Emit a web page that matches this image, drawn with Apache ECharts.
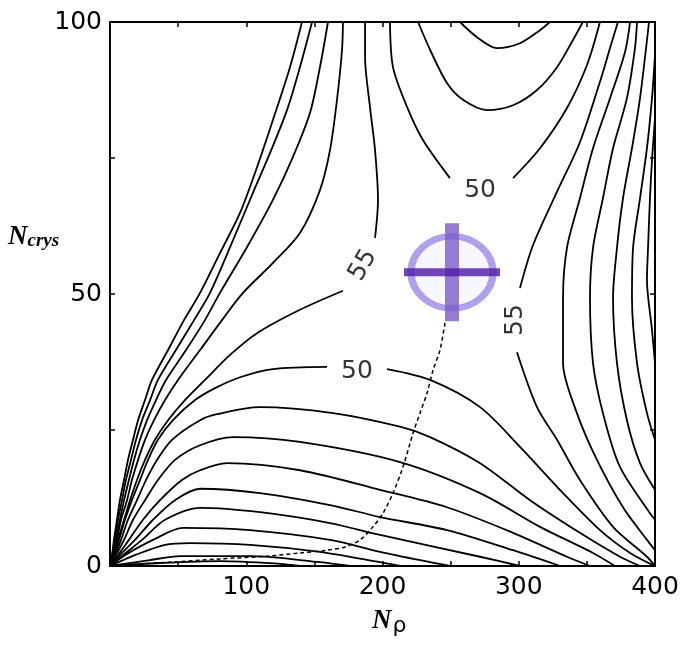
<!DOCTYPE html>
<html>
<head>
<meta charset="utf-8">
<script src="https://cdn.jsdelivr.net/npm/echarts@6/dist/echarts.min.js"></script>
<style>
  html, body { margin: 0; padding: 0; background: #fff; }
  #chart { width: 686px; height: 647px; }
</style>
</head>
<body>
<div id="chart"></div>
<script>
// Axis tick labels
const xTickLabels = [100, 200, 300, 400];
const yTickLabels = [0, 50, 100];

// Left family of contours (levels above 55), top edge down into the origin
const contourU1 = [[140.9,100],[132.1,91.7],[119.6,82.0],[107.9,73.3],[95.4,64.9],[80.7,57.5],[66.1,50.2],[54.3,45.2],[42.6,39.7],[30.8,34.2],[25.7,30.5],[20.6,26.8],[16.9,23.2],[13.2,19.5],[10.3,15.8],[7.3,12.1],[5.1,8.5],[2.9,4.8],[1.5,2.0],[0,0]];
const contourU2 = [[148.3,100],[139.4,91.7],[129.9,83.8],[117.4,75.9],[104.9,68.6],[90.3,59.9],[73.4,50.2],[61.7,45.2],[48.4,39.7],[35.2,34.2],[29.4,30.5],[23.5,26.8],[19.1,23.2],[15.4,19.5],[11.7,15.8],[8.8,12.1],[5.9,8.5],[3.7,4.8],[1.5,2.0],[0,0]];
const contourU3 = [[160.0,100],[154.1,91.7],[146.8,83.3],[134.3,75.2],[119.6,67.3],[100.5,58.6],[80.7,50.2],[69.7,45.2],[55.8,39.7],[41.1,34.2],[33.8,30.5],[27.2,26.8],[22.0,23.2],[17.6,19.5],[13.9,15.8],[10.3,12.1],[7.3,8.5],[4.4,4.8],[2.2,2.0],[0,0]];
const contourU4 = [[171.0,100],[170.3,94.9],[166.6,85.7],[161.5,76.5],[154.1,69.1],[139.4,61.2],[119.6,55.7],[97.6,50.2],[82.2,45.2],[66.1,39.7],[49.9,34.2],[40.4,30.5],[32.3,26.8],[25.7,23.2],[20.6,19.5],[16.1,15.8],[12.5,12.1],[8.1,8.5],[5.1,4.8],[2.2,2.0],[0,0]];

// Level 55, left branch (broken where its label sits)
const contour55LeftTop = [[187.2,100],[187.2,93.6],[190.8,84.4],[194.5,76.5],[196.7,67.3],[194.5,60.3]];
const contour55LeftBottom = [[171.0,50.6],[139.4,47.1],[107.9,42.8],[88.1,38.8],[69.7,34.2],[55.0,30.5],[42.6,26.8],[33.0,23.2],[25.7,19.5],[19.8,15.8],[14.7,12.1],[10.3,8.5],[5.9,4.8],[2.9,2.0],[0,0]];

// Upper family (level 50 and below), opening toward the top edge
const contour50TopLeft = [[205.5,100],[207.7,91.7],[218.0,84.4],[229.7,78.3],[249.5,71.3]];
const contour50TopRight = [[295.8,71.3],[315.6,76.8],[335.4,84.2],[350.1,92.1],[359.6,100]];
const contourV2 = [[226.1,100],[234.9,94.9],[247.3,88.8],[259.1,85.7],[276.7,83.8],[295.8,84.7],[313.4,87.5],[328.1,91.7],[339.8,96.7],[347.1,100]];
const contourV3 = [[256.9,100],[269.4,97.2],[284.0,95.2],[300.9,96.1],[315.6,98.5],[322.9,100]];

// Level 55, right branch
const contour55RightTop = [[372.8,100],[367.0,95.2],[359.6,89.0],[344.9,77.9],[328.1,68.8],[310.5,59.0],[300.9,51.1]];
const contour55RightBottom = [[298.7,39.3],[313.4,29.2],[328.1,23.2],[344.9,15.8],[369.2,7.2],[394.1,1.7],[400,0]];

// Right family (levels above 55)
const contourR1 = [[381.7,100],[378.0,94.5],[367.0,86.0],[354.5,76.8],[344.9,67.6],[335.4,58.5],[332.5,49.3],[332.5,37.3],[342.7,28.1],[357.4,19.5],[376.5,10.8],[394.1,4.8],[400,2.9]];
const contourR2 = [[386.8,100],[385.3,95.2],[379.4,86.0],[369.2,76.8],[361.8,67.6],[354.5,58.5],[352.3,49.3],[354.5,37.3],[361.8,28.1],[374.3,18.2],[396.3,9.7],[400,8.5]];
const contourR3 = [[395.6,100],[389.0,86.0],[383.1,76.8],[376.5,67.6],[372.1,58.5],[369.2,49.3],[372.1,37.3],[379.4,26.8],[389.0,18.9],[400,14.0]];
const contourR4 = [[400,93.9],[397.8,86.0],[394.1,76.8],[389.0,67.6],[383.9,58.5],[383.1,49.3],[386.8,37.3],[394.1,28.1],[400,23.2]];
const contourR5 = [[400,82.4],[397.8,74.6],[396.3,67.6],[394.9,58.5],[394.1,52.6],[397.8,43.4],[400,37.3]];

// Lower family (level 50 and below), fanning out from the origin
const contour50LowLeft = [[0,0],[2.9,2.0],[6.6,4.8],[11.0,8.5],[16.1,12.1],[22.0,15.8],[27.9,19.5],[35.2,23.2],[46.2,26.8],[62.4,30.5],[77.1,32.7],[95.4,34.7],[119.6,36.2],[159.3,36.6]];
const contour50LowRight = [[203.3,36.2],[234.9,34.2],[271.6,29.2],[300.9,21.9],[332.5,13.4],[359.6,6.6],[381.7,2.4],[400,0]];
const contourL2 = [[0,0],[3.7,2.0],[8.1,4.8],[13.2,8.5],[19.8,12.1],[26.4,15.8],[34.5,19.5],[45.5,23.2],[66.1,26.8],[78.5,27.9],[110.1,29.2],[163.7,28.1],[212.8,25.6],[234.9,23.7],[271.6,18.9],[308.3,12.1],[344.9,6.1],[374.3,1.7],[389.0,0]];
const contourL3 = [[0,0],[4.4,2.0],[10.3,4.8],[16.9,8.5],[25.7,12.1],[35.2,15.8],[47.7,19.5],[66.1,22.2],[90.3,23.7],[139.4,22.8],[212.8,19.1],[271.6,13.4],[315.6,7.2],[354.5,2.4],[370.6,0]];
const contourL4 = [[0,0],[5.9,2.0],[13.9,4.8],[24.2,8.5],[36.7,12.1],[52.8,15.8],[66.1,17.6],[85.9,18.9],[139.4,17.6],[198.2,14.0],[247.3,10.8],[295.8,6.1],[335.4,1.7],[352.3,0]];
const contourL5 = [[0,0],[7.3,2.0],[18.3,4.8],[31.6,8.5],[47.7,12.1],[66.1,14.2],[110.1,13.4],[161.5,11.2],[198.2,9.0],[247.3,6.6],[295.8,2.9],[330.3,0]];
const contourL6 = [[0,0],[9.5,2.0],[23.5,4.8],[40.4,8.5],[66.1,10.7],[110.1,9.9],[161.5,7.9],[198.2,5.7],[271.6,1.7],[300.9,0]];
const contourL7 = [[0,0],[11.0,2.0],[31.6,4.8],[53.6,7.0],[102.8,6.6],[161.5,4.8],[198.2,2.6],[234.9,0.7],[249.5,0]];
const contourL8 = [[0,0],[18.3,2.0],[40.4,3.9],[58.7,4.2],[102.8,3.9],[154.1,2.6],[198.2,0.7],[212.8,0]];
const contourL9 = [[0,0],[29.4,1.1],[51.4,1.8],[102.8,1.8],[154.1,0.7],[176.1,0]];
const contourL10 = [[0,0],[36.7,0.55],[80.7,0.9],[124.8,0.4],[139.4,0]];

// Path of best N_crys for each N_p, ending at the optimum
const optimumPath = [[245.9,44.7],[242.2,39.7],[237.1,36.0],[232.7,31.8],[227.5,28.1],[222.4,24.4],[215.0,18.2],[207.7,13.4],[200.4,9.7],[193.0,7.2],[183.5,4.8],[172.5,3.5],[159.3,2.9],[139.4,2.4],[115.2,1.8],[80.7,1.3],[44.0,0.7],[7.3,0.2]];
const optimum = [251, 54];

// Contour level labels
const levelLabelText = ['50', '55', '50', '55'];
const levelLabelAt = [[271.6,69.1],[185.7,55.3],[181.3,35.7],[297.3,45.2]];
const levelLabelAngle = [0, 60, 0, 90];

const contours = [
  contourU1, contourU2, contourU3, contourU4,
  contour55LeftTop, contour55LeftBottom,
  contour50TopLeft, contour50TopRight, contourV2, contourV3,
  contour55RightTop, contour55RightBottom,
  contourR1, contourR2, contourR3, contourR4, contourR5,
  contour50LowLeft, contour50LowRight,
  contourL2, contourL3, contourL4, contourL5, contourL6, contourL7, contourL8, contourL9, contourL10
];

const tickFont = { fontFamily: 'DejaVu Sans', fontSize: 25, color: '#000' };

const chart = echarts.init(document.getElementById('chart'), null, { renderer: 'canvas' });

const series = contours.map(d => ({
  type: 'line',
  data: d,
  showSymbol: false,
  smooth: 0.3,
  silent: true,
  z: 2,
  lineStyle: { color: '#000', width: 1.8 }
}));

series.push({
  type: 'line',
  data: optimumPath,
  showSymbol: false,
  smooth: 0.3,
  silent: true,
  z: 2,
  lineStyle: { color: '#000', width: 1.5, type: [4, 3] }
});

series.push({
  type: 'scatter',
  silent: true,
  z: 3,
  symbolSize: 1,
  itemStyle: { color: 'rgba(0,0,0,0)' },
  data: levelLabelText.map((t, i) => ({
    value: levelLabelAt[i],
    name: t,
    label: { rotate: levelLabelAngle[i] }
  })),
  label: {
    show: true,
    position: 'inside',
    formatter: p => p.name,
    fontFamily: 'DejaVu Sans',
    fontSize: 25,
    color: '#000'
  }
});

// Marker at the optimum: ring with a cross through it
series.push({
  type: 'scatter', silent: true, z: 5,
  symbol: 'circle', symbolSize: [82, 72],
  itemStyle: { color: 'rgba(238,234,252,0.55)', borderColor: '#9d88e6', borderWidth: 7 },
  data: [optimum]
});
series.push({
  type: 'scatter', silent: true, z: 6,
  symbol: 'rect', symbolSize: [14, 98],
  itemStyle: { color: '#7b5cc9' },
  data: [optimum]
});
series.push({
  type: 'scatter', silent: true, z: 7,
  symbol: 'rect', symbolSize: [96, 8],
  itemStyle: { color: '#4c1aa6' },
  data: [optimum]
});

const axisLine = { show: true, onZero: false, lineStyle: { color: '#000', width: 2 } };
const axisTick = { show: true, inside: true, length: 5, lineStyle: { color: '#000', width: 1.5 } };

chart.setOption({
  animation: false,
  backgroundColor: '#fff',
  grid: { left: 110, right: 31, top: 22, bottom: 81, containLabel: false },
  xAxis: [
    {
      type: 'value', min: 0, max: 400, interval: 50, position: 'bottom',
      axisLine, axisTick, splitLine: { show: false },
      axisLabel: Object.assign({
        margin: 9,
        formatter: v => (xTickLabels.includes(v) ? String(v) : '')
      }, tickFont)
    },
    {
      type: 'value', min: 0, max: 400, interval: 50, position: 'top',
      axisLine, axisTick, splitLine: { show: false }, axisLabel: { show: false }
    }
  ],
  yAxis: [
    {
      type: 'value', min: 0, max: 100, interval: 25, position: 'left',
      axisLine, axisTick, splitLine: { show: false },
      axisLabel: Object.assign({
        margin: 8,
        formatter: v => (yTickLabels.includes(v) ? String(v) : '')
      }, tickFont)
    },
    {
      type: 'value', min: 0, max: 100, interval: 25, position: 'right',
      axisLine, axisTick, splitLine: { show: false }, axisLabel: { show: false }
    }
  ],
  graphic: [
    {
      type: 'text', left: 8, top: 224, silent: true,
      style: {
        text: '{n|N}{s|crys}',
        rich: {
          n: { fontFamily: 'Liberation Serif', fontStyle: 'italic', fontWeight: 'bold', fontSize: 27, fill: '#000' },
          s: { fontFamily: 'Liberation Serif', fontStyle: 'italic', fontWeight: 'bold', fontSize: 19, fill: '#000', padding: [8, 0, 0, 0] }
        }
      }
    },
    {
      type: 'text', left: 372, top: 608, silent: true,
      style: {
        text: '{n|N}{s|ρ}',
        rich: {
          n: { fontFamily: 'Liberation Serif', fontStyle: 'italic', fontWeight: 'bold', fontSize: 27, fill: '#000' },
          s: { fontFamily: 'DejaVu Sans', fontSize: 22, fill: '#000', padding: [10, 0, 0, 1] }
        }
      }
    }
  ],
  series
});
</script>
</body>
</html>
